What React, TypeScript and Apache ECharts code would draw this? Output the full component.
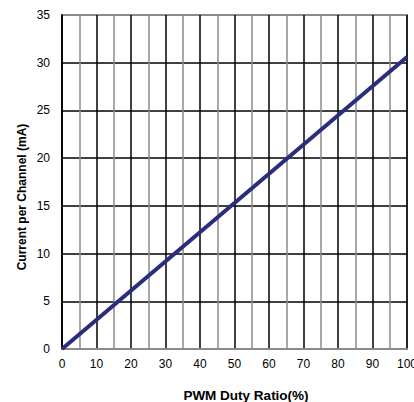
import React, { useEffect, useRef } from "react";
import * as echarts from "echarts";

const dutyRatio = [0, 50, 100];
const current = [0, 15.3, 30.6];
const xTicks = { min: 0, max: 100, interval: 10 };
const yTicks = { min: 0, max: 35, interval: 5 };
const xTitle = "PWM Duty Ratio(%)";
const yTitle = "Current per Channel (mA)";

export default function App() {
  const ref = useRef<HTMLDivElement>(null);
  useEffect(() => {
    document.body.style.margin = "0";
    const chart = echarts.init(ref.current!, null, { renderer: "svg" });
    const font = "Liberation Sans, Arial, sans-serif";
    chart.setOption({
      animation: false,
      backgroundColor: "#ffffff",
      grid: {
        left: 62,
        top: 15,
        right: 7,
        bottom: 53,
        outerBoundsMode: "none",
        containLabel: false,
        show: true,
        borderColor: "#8a8a8a",
        borderWidth: 2,
        backgroundColor: "transparent",
      },
      xAxis: {
        type: "value",
        min: xTicks.min,
        max: xTicks.max,
        interval: xTicks.interval,
        axisLine: { show: true, lineStyle: { color: "#8a8a8a", width: 2 } },
        axisTick: { show: false },
        axisLabel: { color: "#000", fontSize: 12, fontFamily: font, margin: 9 },
        splitLine: { show: true, lineStyle: { color: "#000", width: 1.5 } },
        minorTick: { show: false, splitNumber: 2 },
        minorSplitLine: { show: true, lineStyle: { color: "#8a8a8a", width: 1.5 } },
      },
      yAxis: {
        type: "value",
        min: yTicks.min,
        max: yTicks.max,
        interval: yTicks.interval,
        axisLine: { show: true, lineStyle: { color: "#000", width: 1.5 } },
        axisTick: { show: false },
        axisLabel: { color: "#000", fontSize: 12, fontFamily: font, margin: 12 },
        splitLine: {
          show: true,
          lineStyle: {
            color: ["#8a8a8a", "#000", "#000", "#000", "#000", "#000", "#000", "#8a8a8a"],
            width: 1.5,
          },
        },
      },
      graphic: [
        {
          type: "text",
          x: 246,
          y: 395,
          style: {
            text: xTitle,
            fontSize: 13.5,
            fontWeight: "bold",
            fontFamily: font,
            fill: "#000",
            align: "center",
            verticalAlign: "middle",
          },
        },
        {
          type: "text",
          x: 22,
          y: 197,
          rotation: Math.PI / 2,
          style: {
            text: yTitle,
            fontSize: 12,
            fontWeight: "bold",
            fontFamily: font,
            fill: "#000",
            align: "center",
            verticalAlign: "middle",
          },
        },
      ],
      series: [
        {
          type: "line",
          data: dutyRatio.map((x, i) => [x, current[i]]),
          showSymbol: false,
          symbol: "none",
          lineStyle: { color: "#2a2d7c", width: 4 },
          z: 10,
        },
      ],
    });
    return () => chart.dispose();
  }, []);
  return <div ref={ref} style={{ width: 414, height: 402 }} />;
}
